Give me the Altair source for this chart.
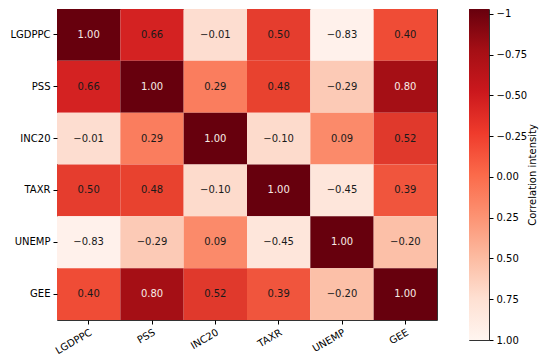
import altair as alt
import pandas as pd

variables = ["LGDPPC", "PSS", "INC20", "TAXR", "UNEMP", "GEE"]
row_lgdppc = [1.00, 0.66, -0.01, 0.50, -0.83, 0.40]
row_pss = [0.66, 1.00, 0.29, 0.48, -0.29, 0.80]
row_inc20 = [-0.01, 0.29, 1.00, -0.10, 0.09, 0.52]
row_taxr = [0.50, 0.48, -0.10, 1.00, -0.45, 0.39]
row_unemp = [-0.83, -0.29, 0.09, -0.45, 1.00, -0.20]
row_gee = [0.40, 0.80, 0.52, 0.39, -0.20, 1.00]
rows = [row_lgdppc, row_pss, row_inc20, row_taxr, row_unemp, row_gee]

# cell shading as drawn in the reference (value -> colour)
shade_values = [-0.83, -0.45, -0.29, -0.20, -0.10, -0.01, 0.09, 0.29,
                0.39, 0.40, 0.48, 0.50, 0.52, 0.66, 0.80, 1.00]
shade_colors = ["#fff1eb", "#fee6db", "#fccab6", "#fcc0a8", "#fddbcc", "#fdddd0",
                "#fb8a6a", "#fa7d5e", "#f0553d", "#ef4c36", "#e8422f", "#e53d2e",
                "#e0392c", "#d42222", "#a50f15", "#67000d"]

cbar_ticks = [-1, -0.75, -0.5, -0.25, 0, 0.25, 0.5, 0.75, 1.0]
cbar_lo, cbar_hi = -1.03, 1.0

records = []
for rv, row in zip(variables, rows):
    for cv, v in zip(variables, row):
        records.append({"row": rv, "col": cv, "value": v,
                        "label": f"{v:.2f}".replace("-", "\u2212")})
df = pd.DataFrame(records)

FONT = "DejaVu Sans"
FS = 10

base = alt.Chart(df).encode(
    x=alt.X("col:N", sort=variables, title=None,
            axis=alt.Axis(labelAngle=330, labelAlign="right", labelBaseline="top",
                          labelFontSize=FS, labelColor="#000", tickColor="#000",
                          tickSize=4, labelPadding=3, domain=False)),
    y=alt.Y("row:N", sort=variables, title=None,
            axis=alt.Axis(labelFontSize=FS, labelColor="#000", tickColor="#000",
                          tickSize=4, labelPadding=3, domain=False,
                          minExtent=48, maxExtent=48)),
)

cells = base.mark_rect().encode(
    color=alt.Color("value:Q", legend=None,
                    scale=alt.Scale(domain=shade_values, range=shade_colors))
)
texts = base.mark_text(fontSize=FS, font=FONT).encode(
    text="label:N",
    color=alt.condition(alt.datum.value > 0.7, alt.value("#f7ece6"), alt.value("#1a1a1a")),
)
heat = (cells + texts).properties(width=380, height=311)

cbar_df = pd.DataFrame({"lo": [cbar_lo], "hi": [cbar_hi]})
grad = alt.LinearGradient(
    gradient="linear", x1=0, y1=0, x2=0, y2=1,
    stops=[
        alt.GradientStop(color="#67000d", offset=0),
        alt.GradientStop(color="#a50f15", offset=0.125),
        alt.GradientStop(color="#cb181d", offset=0.25),
        alt.GradientStop(color="#ef3b2c", offset=0.375),
        alt.GradientStop(color="#fb6a4a", offset=0.5),
        alt.GradientStop(color="#fc9272", offset=0.625),
        alt.GradientStop(color="#fcbba1", offset=0.75),
        alt.GradientStop(color="#fee0d2", offset=0.875),
        alt.GradientStop(color="#fff5f0", offset=1),
    ],
)
cbar = alt.Chart(cbar_df).mark_rect(color=grad).encode(
    x=alt.value(0), x2=alt.value(20),
    y=alt.Y("lo:Q", scale=alt.Scale(domain=[cbar_lo, cbar_hi], reverse=True, nice=False, zero=False),
            axis=alt.Axis(orient="right", values=cbar_ticks, grid=False, domain=False,
                          labelExpr="datum.value == -1 ? '\u22121' : replace(format(datum.value, '.2f'), '-', '\u2212')",
                          labelFontSize=FS, labelColor="#000", tickColor="#000", tickSize=4,
                          labelPadding=3, title="Correlation intensity", titleAngle=270,
                          titleFontSize=FS, titleFontWeight="normal", titleColor="#000",
                          titlePadding=11)),
    y2="hi:Q",
).properties(width=20, height=331)

chart = alt.hconcat(heat, cbar, spacing=30).properties(
    padding={"left": 0, "top": 0, "right": 0, "bottom": 0}
).configure(font=FONT).configure_view(stroke="#333", strokeWidth=1).configure_axis(grid=False)

chart.save("out.html", embed_options={"renderer": "svg", "actions": False})
